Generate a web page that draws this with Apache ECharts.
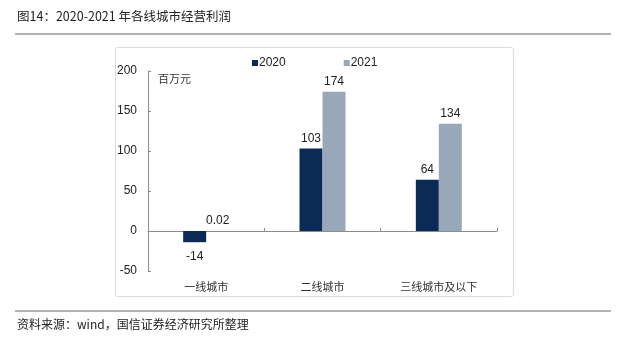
<!DOCTYPE html>
<html>
<head>
<meta charset="utf-8">
<script src="https://cdn.jsdelivr.net/npm/echarts@6/dist/echarts.min.js"></script>
<style>
  html, body { margin: 0; padding: 0; background: #fff; }
  #chart { width: 627px; height: 342px; }
</style>
</head>
<body>
<div id="chart"></div>
<script>
// Operating profit by city tier (million yuan)
const categories = ['一线城市', '二线城市', '三线城市及以下'];
const profit2020 = [-14, 103, 64];
const profit2021 = [0.02, 174, 134];
const yTicks = { min: -50, max: 200, interval: 50 };

const titleText = '图14：2020-2021 年各线城市经营利润';
const sourceText = '资料来源：wind，国信证券经济研究所整理';
const unitText = '百万元';

const cjk = '"Noto Sans CJK SC", "Noto Sans", sans-serif';
const latin = '"Liberation Sans", Arial, sans-serif';

const chart = echarts.init(document.getElementById('chart'));

const labelStyle = {
  show: true,
  fontFamily: latin,
  fontSize: 12,
  color: '#222',
  distance: 4,
  formatter: p => String(p.value),
  position: 'top'
};

chart.setOption({
  animation: false,
  backgroundColor: '#fff',
  grid: { left: 148, right: 130, top: 71, bottom: 71 },
  legend: {
    data: ['2020', '2021'],
    left: 247,
    top: 52,
    itemWidth: 6,
    itemHeight: 6,
    itemGap: 58,
    icon: 'rect',
    textStyle: { fontFamily: latin, fontSize: 12, color: '#222', padding: [0, 0, 0, -4] }
  },
  xAxis: {
    type: 'category',
    data: categories,
    axisLine: { onZero: true, lineStyle: { color: '#8c8c8c', width: 1 } },
    axisTick: { show: true, inside: true, length: 3, lineStyle: { color: '#8c8c8c' } },
    axisLabel: {
      interval: 0,
      fontFamily: cjk,
      fontSize: 11,
      color: '#333',
      margin: 10
    }
  },
  yAxis: {
    type: 'value',
    min: yTicks.min,
    max: yTicks.max,
    interval: yTicks.interval,
    splitLine: { show: false },
    axisLine: { show: true, lineStyle: { color: '#8c8c8c', width: 1 } },
    axisTick: { show: true, inside: true, length: 3, lineStyle: { color: '#8c8c8c' } },
    axisLabel: { fontFamily: latin, fontSize: 12, color: '#222', margin: 11 }
  },
  series: [
    {
      name: '2020',
      type: 'bar',
      data: profit2020.map(v => ({
        value: v,
        label: v < 0 ? { position: 'bottom', distance: 8 } : undefined
      })),
      barWidth: 23,
      barGap: '0%',
      itemStyle: { color: '#0b2a55' },
      label: labelStyle
    },
    {
      name: '2021',
      type: 'bar',
      data: profit2021,
      barWidth: 23,
      itemStyle: { color: '#98a8b9' },
      label: labelStyle
    }
  ],
  graphic: [
    {
      type: 'text',
      left: 17, top: 10,
      style: { text: titleText, font: '12.5px ' + cjk, fill: '#222' }
    },
    {
      type: 'line',
      shape: { x1: 15, y1: 34, x2: 611, y2: 34 },
      style: { stroke: '#9a9a9a', lineWidth: 1.5 }
    },
    {
      type: 'rect',
      shape: { x: 115.5, y: 47.5, width: 398, height: 249, r: 2 },
      style: { fill: 'none', stroke: '#dcdcdc', lineWidth: 1 },
      z: -1
    },
    {
      type: 'text',
      left: 158, top: 73,
      style: { text: unitText, font: '11px ' + cjk, fill: '#333' }
    },
    {
      type: 'line',
      shape: { x1: 15, y1: 311, x2: 611, y2: 311 },
      style: { stroke: '#9a9a9a', lineWidth: 1.5 }
    },
    {
      type: 'text',
      left: 17, top: 318,
      style: { text: sourceText, font: '12px ' + cjk, fill: '#222' }
    }
  ]
});
</script>
</body>
</html>
